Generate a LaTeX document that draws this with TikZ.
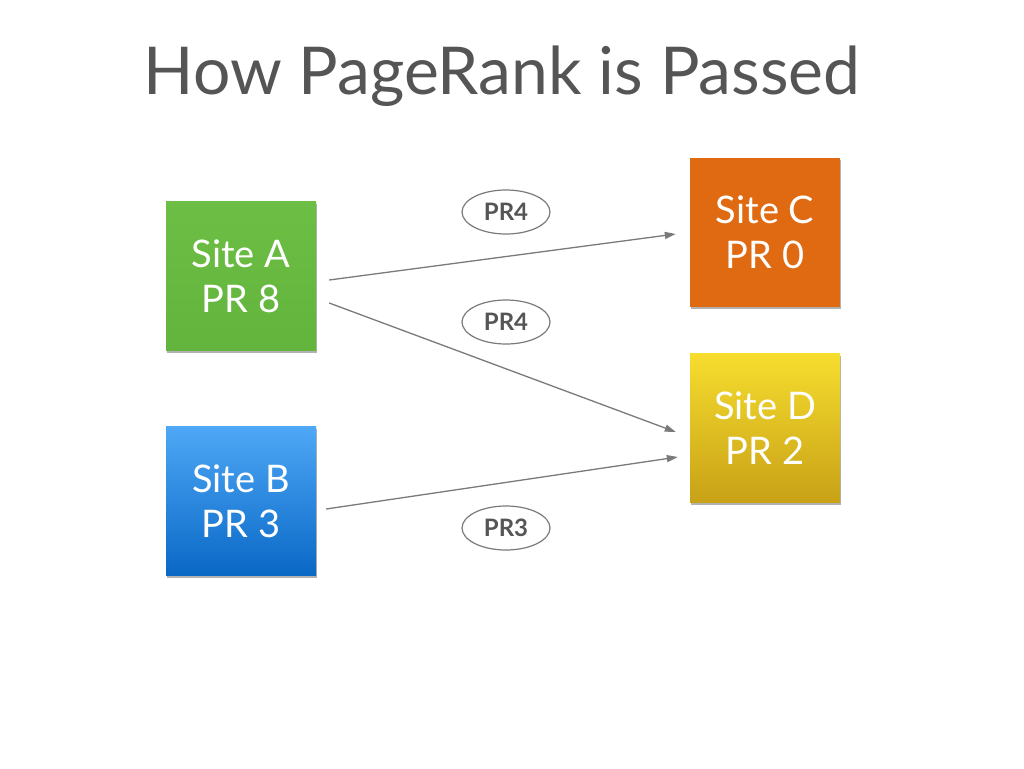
\documentclass[tikz,border=0pt]{standalone}
\usepackage{fontspec}
\setmainfont{Lato}
\usetikzlibrary{calc,arrows.meta,shadows,shapes.geometric}
\definecolor{titlegray}{HTML}{555555}
\definecolor{linegray}{HTML}{7A7A7A}
\definecolor{agreen}{HTML}{6CBE45}
\definecolor{agreen2}{HTML}{62B43C}
\definecolor{btop}{HTML}{4EA8F6}
\definecolor{bbot}{HTML}{0A68C6}
\definecolor{corange}{HTML}{E06A12}
\definecolor{dtop}{HTML}{F6DD2E}
\definecolor{dbot}{HTML}{C8A117}
\tikzset{
  site/.style={minimum width=150pt, minimum height=149pt, inner sep=0pt,
    align=center, text=white, font=\fontsize{38}{45}\selectfont,
    drop shadow={shadow xshift=1pt, shadow yshift=-2.5pt, fill=black, opacity=0.3}},
  prlabel/.style={ellipse, draw=linegray, line width=1.2pt, minimum width=88pt,
    minimum height=44pt, inner sep=0pt, text=titlegray,
    font=\fontsize{24}{26}\selectfont\bfseries},
  link/.style={draw=linegray, line width=1.3pt, -{Triangle[length=11pt,width=7pt]}},
}
\begin{document}
\begin{tikzpicture}[x=1pt,y=-1pt]
\fill[white] (0,0) rectangle (1024,768);
\useasboundingbox (0,0) rectangle (1024,768);
\node[text=titlegray, font=\fontsize{66}{70}\selectfont] (title) at (502,76) {How PageRank is Passed};
\node[site, top color=agreen, bottom color=agreen2] (A) at (241,276) {Site A\\PR 8};
\node[site, top color=btop, bottom color=bbot] (B) at (241,501) {Site B\\PR 3};
\node[site, fill=corange] (C) at (765,232) {Site C\\PR 0};
\node[site, top color=dtop, bottom color=dbot] (D) at (765,428) {Site D\\PR 2};
\node[prlabel] (l1) at (506,212) {PR4};
\node[prlabel] (l2) at (506,322) {PR4};
\node[prlabel] (l3) at (506,528) {PR3};
\draw[link] ($(A.east)+(13,4)$) -- ($(C.west)+(-14,2)$);
\draw[link] ($(A.east)+(13,27)$) -- ($(D.west)+(-14,4)$);
\draw[link] ($(B.east)+(10,8)$) -- ($(D.west)+(-12,29)$);
\end{tikzpicture}
\end{document}
